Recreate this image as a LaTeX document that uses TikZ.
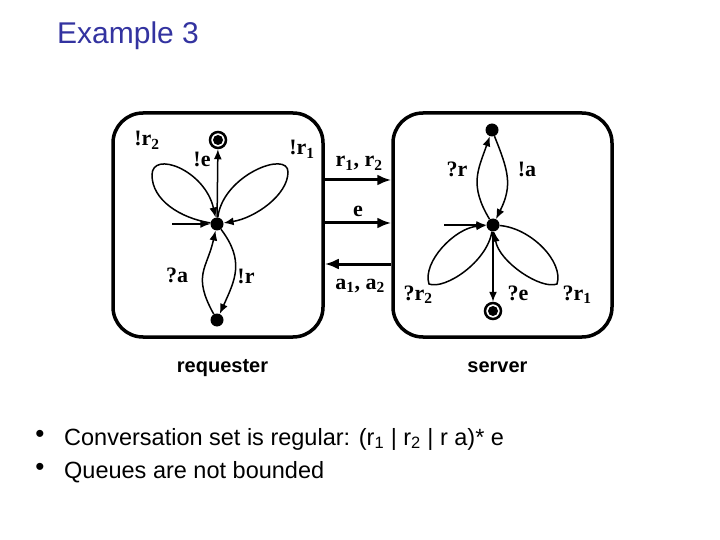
\documentclass[tikz,border=0pt]{standalone}
\usepackage{fontspec}
\setmainfont{Liberation Serif}
\setsansfont{Liberation Sans}
\usetikzlibrary{arrows.meta}
\definecolor{titleblue}{RGB}{51,51,160}
\begin{document}
\begin{tikzpicture}[x=1pt,y=-1pt,
  st/.style={circle,fill=black,inner sep=0pt,minimum size=13pt},
  acc/.style={circle,draw,line width=2.5pt,inner sep=0pt,minimum size=16pt,
    path picture={\fill[black] (path picture bounding box.center) circle (5pt);}},
  tr/.style={line width=1.5pt,-{Latex[length=10pt,width=8pt]}},
  chan/.style={line width=3pt,-{Latex[length=14pt,width=11pt]}},
  box/.style={draw,line width=3.5pt,rounded corners=30pt,minimum height=224pt,inner sep=0pt},
  lab/.style={font=\fontsize{22}{22}\selectfont\bfseries,anchor=base,inner sep=0pt},
  captxt/.style={font=\sffamily\bfseries\fontsize{20}{20}\selectfont,anchor=base,inner sep=0pt},
  txt/.style={font=\sffamily\fontsize{23.5}{23.5}\selectfont,anchor=base west,inner sep=0pt},
  bul/.style={font=\sffamily\fontsize{26}{26}\selectfont,anchor=base,inner sep=0pt},
]
\useasboundingbox (0,0) rectangle (720,540);

% title
\node[font=\sffamily\fontsize{30}{30}\selectfont,text=titleblue,anchor=base west,inner sep=0pt] (title) at (57,44) {Example 3};

% boxes
\node[box,minimum width=210pt] (lbox) at (218,225) {};
\node[box,minimum width=219pt] (rbox) at (502.5,225) {};

% requester
\node[st] (L) at (217,224) {};
\node[acc] (LA) at (218,140) {};
\node[st] (LB) at (217,320) {};
\coordinate (Lin) at (172,224);
\coordinate (Ltl) at (152,175);
\coordinate (Ltr) at (288,172);
\draw[tr] (Lin) -- (L);
\draw[tr] (L) -- (LA);
\draw[tr] (L) .. controls (180,218) and (152,200) .. (Ltl) .. controls (152,150) and (205,170) .. (L);
\draw[tr] (L) .. controls (223,175) and (288,150) .. (Ltr) .. controls (288,195) and (255,218) .. (L);
\draw[tr] (LB) .. controls +(-25,-45) and +(-10,45) .. (L);
\draw[tr] (L) .. controls +(28,37) and +(18,-40) .. (LB);

\node[lab] (lr2) at (147,146) {!r\textsubscript{2}};
\node[lab] (le) at (202,167) {!e};
\node[lab] (lr1) at (302,155) {!r\textsubscript{1}};
\node[lab] (la) at (177,282) {?a};
\node[lab] (lr) at (246,283) {!r};

% server
\node[st] (R) at (493,225) {};
\node[st] (T) at (492,130) {};
\node[acc] (RA) at (493,311) {};
\coordinate (Rin) at (444,225);
\coordinate (Rbl) at (429,284);
\coordinate (Rbr) at (557,284);
\draw[tr] (Rin) -- (R);
\draw[tr] (R) -- (RA);
\draw[tr] (R) .. controls +(-24,-40) and +(-14,40) .. (T);
\draw[tr] (T) .. controls +(16,40) and +(20,-40) .. (R);
\draw[tr] (R) .. controls (487,262) and (445,290) .. (Rbl) .. controls (422,262) and (455,228) .. (R);
\draw[tr] (R) .. controls (531,228) and (564,262) .. (Rbr) .. controls (541,290) and (499,262) .. (R);

\node[lab] (sr) at (457,177) {?r};
\node[lab] (sa) at (527,177) {!a};
\node[lab] (sr2) at (418,300) {?r\textsubscript{2}};
\node[lab] (se) at (518,300) {?e};
\node[lab] (sr1) at (577,300) {?r\textsubscript{1}};

% channels
\draw[chan] (lbox.east |- 0,180) -- (rbox.west |- 0,180);
\draw[chan] (lbox.east |- 0,223) -- (rbox.west |- 0,223);
\draw[chan] (rbox.west |- 0,264) -- (lbox.east |- 0,264);
\node[lab] (c1) at (359,167) {r\textsubscript{1}, r\textsubscript{2}};
\node[lab] (c2) at (358,217) {e};
\node[lab] (c3) at (360,289) {a\textsubscript{1}, a\textsubscript{2}};

% captions
\node[captxt] (creq) at (222.5,372) {requester};
\node[captxt] (cser) at (497.5,372) {server};

% bullets
\node[bul] (d1) at (40,442) {•};
\node[bul] (d2) at (40,475) {•};
\node[txt] (t1) at (64,445) {Conversation set is regular: (r\textsubscript{1} | r\textsubscript{2} | r a)* e};
\node[txt] (t2) at (64,478) {Queues are not bounded};
\end{tikzpicture}
\end{document}
